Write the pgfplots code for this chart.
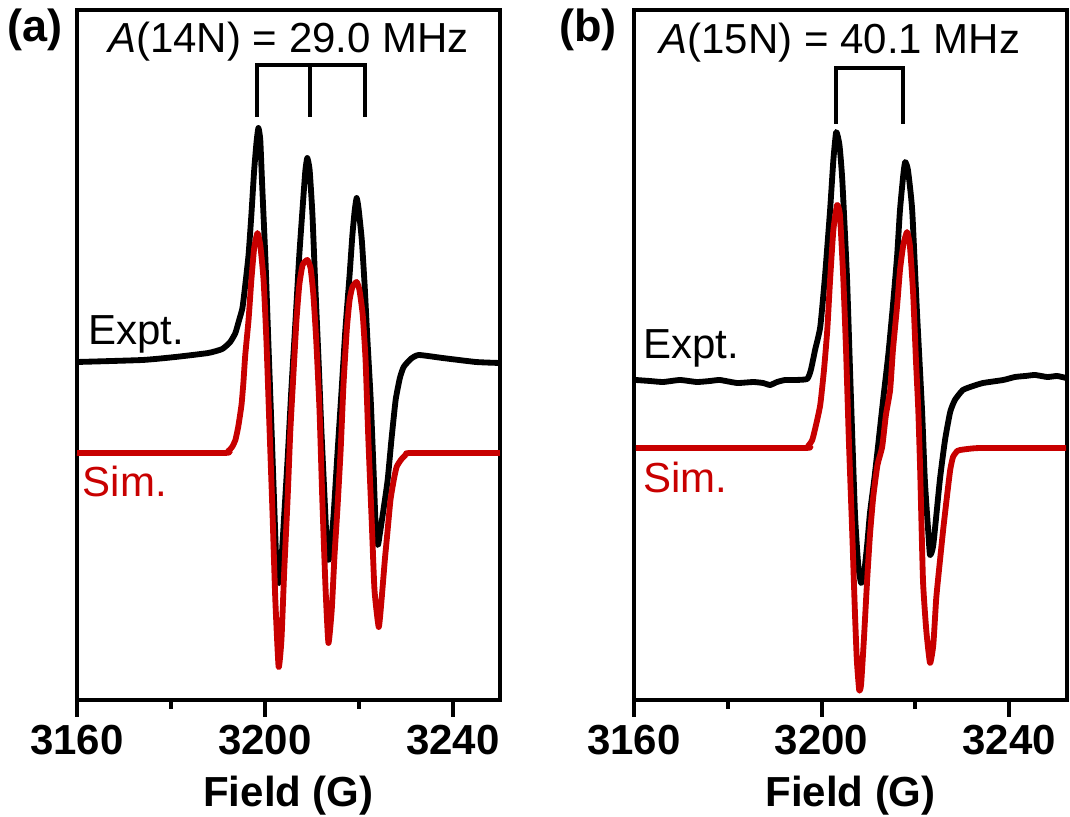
\documentclass[border=0pt]{standalone}
\usepackage{fontspec}
\setmainfont{Liberation Sans}
\usepackage{pgfplots}
\pgfplotsset{compat=1.18}
\definecolor{simred}{RGB}{200,0,0}
\newcommand{\fs}{\fontsize{12.6pt}{15pt}\selectfont}

\pgfplotsset{
  epr/.style={
    scale only axis, height=207pt,
    ymin=0, ymax=690, xmin=3160,
    ytick=\empty,
    xtick={3160,3200,3240}, minor xtick={3180,3220},
    xtick pos=bottom, tick align=outside,
    major tick length=5.1pt, minor tick length=2.7pt,
    tick style={black, line width=1.2pt},
    minor tick style={black, line width=1.2pt},
    axis line style={line width=1.2pt, line cap=rect},
    ticklabel style={font=\fs\bfseries},
    xticklabel style={yshift=1pt},
    /pgf/number format/assume math mode=true,
    /pgf/number format/1000 sep={},
    xlabel={Field (G)},
    xlabel style={font=\fs\bfseries, at={(axis description cs:0.5,0)}, anchor=base, yshift=-32.1pt},
    clip=false, anchor=south west,
  },
  expt/.style={black, line width=1.75pt, line join=round, smooth, tension=0.3},
  sim/.style={simred, line width=1.75pt, line join=round, smooth, tension=0.3},
  bracket/.style={black, line width=1.2pt, line cap=rect},
}

\begin{document}
\begin{tikzpicture}[font=\fs]

% (a) 14N
\begin{axis}[epr, at={(23.1pt,35.1pt)}, width=126.9pt, xmax=3250]
\addplot[expt] coordinates {
(3160.0,338) (3173.9,340) (3180.9,343) (3187.9,347) (3190.9,351) (3192.6,358)
(3193.7,367) (3194.5,380) (3195.2,392) (3195.8,415) (3196.5,445) (3197.1,485)
(3197.7,530) (3198.2,558) (3198.6,572) (3199.0,560) (3199.4,515) (3200.1,440)
(3200.7,360) (3201.4,270) (3202.0,190) (3202.4,140) (3202.9,117) (3203.3,125)
(3203.9,170) (3204.8,240) (3205.6,310) (3206.5,380) (3207.3,445) (3208.2,505)
(3208.6,530) (3209.0,542) (3209.5,530) (3210.1,485) (3210.7,415) (3211.4,340)
(3212.0,270) (3212.7,200) (3213.1,160) (3213.5,140) (3213.9,148) (3214.6,185)
(3215.4,245) (3216.3,310) (3217.1,370) (3218.0,425) (3218.6,465) (3219.1,490)
(3219.5,502) (3219.9,492) (3220.6,460) (3221.2,415) (3221.8,360) (3222.5,300)
(3223.1,230) (3223.5,180) (3224.0,155) (3224.4,165) (3225.2,190) (3226.1,220)
(3226.9,260) (3227.8,300) (3228.7,322) (3229.5,333) (3231.0,341) (3232.7,345)
(3237.8,342) (3244.9,338) (3250.0,337)
};
\addplot[sim] coordinates {
(3160.0,247) (3190.9,247) (3192.2,249) (3193.0,253) (3193.7,260) (3194.3,273)
(3195.0,295) (3195.4,317) (3195.8,345) (3196.5,380) (3197.1,420) (3197.7,452)
(3198.4,467) (3199.0,455) (3199.7,420) (3200.3,360) (3200.9,280) (3201.6,187)
(3202.2,100) (3202.9,33) (3203.5,60) (3204.1,130) (3204.8,200) (3205.4,270)
(3206.1,330) (3206.7,380) (3207.3,415) (3208.0,435) (3209.0,440) (3209.7,432)
(3210.3,405) (3210.9,360) (3211.6,290) (3212.2,200) (3212.9,110) (3213.5,57)
(3214.2,90) (3214.8,145) (3215.4,190) (3216.1,250) (3216.7,315) (3217.4,370)
(3218.0,400) (3218.6,413) (3219.5,418) (3220.1,410) (3220.8,385) (3221.4,340)
(3222.0,260) (3222.7,180) (3223.3,110) (3224.2,73) (3224.8,100) (3225.5,140)
(3226.1,170) (3226.7,200) (3227.4,220) (3228.0,233) (3228.9,240) (3229.9,245)
(3231.0,247) (3250.0,247)
};
\addplot[bracket] coordinates {(3198.4,585) (3198.4,635) (3221.2,635) (3221.2,585)};
\addplot[bracket] coordinates {(3209.5,635) (3209.5,585)};
\node[anchor=base] at (axis cs:3205.0,648) {\textit{A}(14N) = 29.0 MHz};
\node[anchor=base west, inner sep=0] at (axis cs:3162.3,355) {Expt.};
\node[anchor=base west, inner sep=0, text=simred] at (axis cs:3161.1,203) {Sim.};
\node[anchor=base, font=\fontsize{13.5pt}{16pt}\selectfont\bfseries] at (axis cs:3151.0,659) {(a)};
\end{axis}

% (b) 15N
\begin{axis}[epr, at={(190.2pt,35.1pt)}, width=129.9pt, xmax=3252.3]
\addplot[expt] coordinates {
(3160.4,320) (3163.4,319) (3166.2,318) (3169.8,320) (3173.4,318) (3176.2,319)
(3178.3,320) (3182.0,317) (3185.4,318) (3187.5,317) (3189.0,315) (3190.5,318)
(3192.2,320) (3194.3,320) (3196.9,321) (3197.7,330) (3198.6,350) (3199.7,373)
(3200.7,423) (3201.8,490) (3202.5,540) (3203.1,568) (3203.8,555) (3204.4,520)
(3205.4,423) (3206.1,323) (3207.1,187) (3207.8,135) (3208.4,117) (3209.0,125)
(3209.7,155) (3210.3,187) (3211.2,220) (3212.0,253) (3213.1,300) (3214.2,345)
(3215.2,395) (3216.1,445) (3216.7,490) (3217.4,525) (3217.8,538) (3218.4,530)
(3219.3,490) (3220.3,390) (3221.4,290) (3222.0,220) (3222.7,170) (3223.1,145)
(3223.8,155) (3225.2,220) (3226.3,260) (3227.4,288) (3228.4,300) (3230.1,310)
(3232.3,314) (3234.4,317) (3238.7,320) (3241.2,323) (3243.4,324) (3245.5,325)
(3248.1,323) (3250.2,324) (3252.1,322)
};
\addplot[sim] coordinates {
(3160.4,252) (3196.0,252) (3197.1,254) (3198.0,260) (3198.8,275) (3199.7,295)
(3200.5,330) (3201.2,370) (3201.8,420) (3202.5,470) (3203.3,495) (3203.9,485)
(3204.6,423) (3205.2,350) (3205.8,260) (3206.5,170) (3207.1,87) (3207.5,40)
(3208.0,10) (3208.4,15) (3209.0,60) (3209.7,120) (3210.3,165) (3211.0,203)
(3211.9,235) (3212.9,253) (3213.7,285) (3214.6,310) (3215.2,350) (3216.1,395)
(3216.7,430) (3217.4,455) (3218.2,468) (3218.8,455) (3219.5,407) (3220.1,340)
(3220.6,290) (3221.0,230) (3221.6,120) (3222.3,70) (3223.1,37) (3223.8,55)
(3224.4,100) (3224.8,120) (3225.9,170) (3226.7,203) (3227.4,230) (3228.0,243)
(3228.9,249) (3229.5,250) (3233.8,252) (3252.1,252)
};
\addplot[bracket] coordinates {(3203.1,578) (3203.1,632) (3217.4,632) (3217.4,578)};
\node[anchor=base] at (axis cs:3203.9,647) {\textit{A}(15N) = 40.1 MHz};
\node[anchor=base west, inner sep=0] at (axis cs:3161.9,341) {Expt.};
\node[anchor=base west, inner sep=0, text=simred] at (axis cs:3161.9,207) {Sim.};
\node[anchor=base, font=\fontsize{13.5pt}{16pt}\selectfont\bfseries] at (axis cs:3150.2,659) {(b)};
\end{axis}

\pgfresetboundingbox
\useasboundingbox (0,0) rectangle (321pt,245.1pt);
\end{tikzpicture}
\end{document}
